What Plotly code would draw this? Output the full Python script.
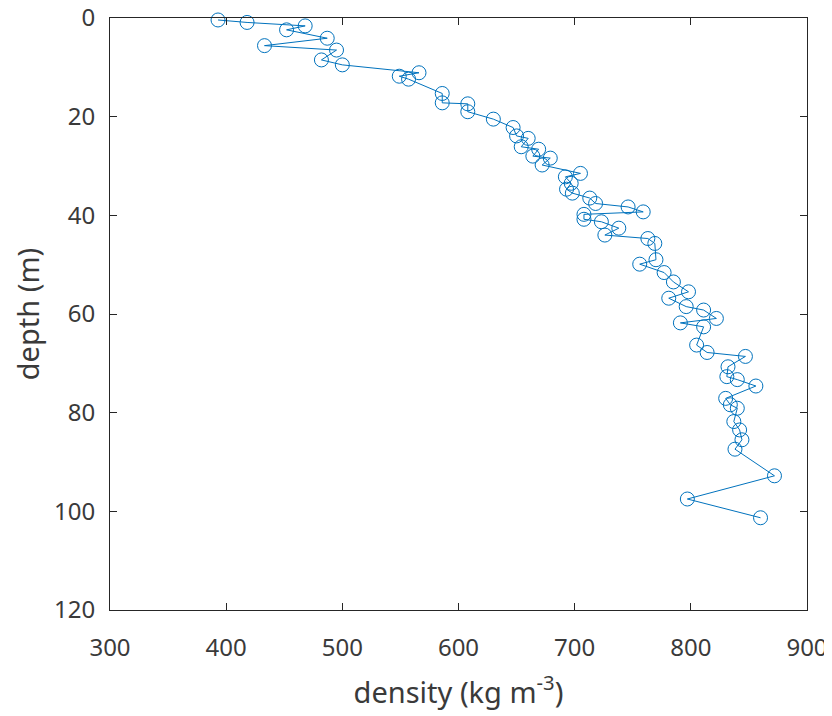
"""Density profile vs depth, MATLAB-style line with open circles."""

import plotly.graph_objects as go

# ---------------------------------------------------------------------------
# Data
# ---------------------------------------------------------------------------
depth = [
    0.4, 0.9, 1.6, 2.4, 4.1, 5.6, 6.5, 8.5, 9.5, 11.1,
    11.8, 12.4, 15.3, 17.2, 17.4, 19.0, 20.5, 22.2, 23.9, 24.4,
    26.1, 26.6, 28.0, 28.4, 29.8, 31.5, 32.2, 33.5, 34.7, 35.5,
    36.5, 37.6, 38.3, 39.3, 39.8, 40.8, 41.3, 42.6, 44.0, 44.7,
    45.7, 49.0, 49.9, 51.6, 53.5, 55.5, 56.8, 58.5, 59.2, 60.9,
    61.8, 62.6, 66.3, 67.8, 68.6, 70.7, 72.7, 73.3, 74.6, 77.1,
    78.4, 79.1, 81.8, 83.5, 85.5, 87.4, 92.8, 97.5, 101.3,
]
density = [
    393, 418, 468, 452, 487, 433, 495, 482, 500, 566,
    549, 557, 586, 586, 608, 608, 630, 647, 650, 660,
    654, 669, 664, 679, 672, 705, 692, 697, 693, 698,
    713, 718, 746, 759, 708, 708, 723, 738, 726, 763,
    769, 770, 756, 777, 785, 798, 781, 796, 811, 822,
    791, 811, 805, 814, 847, 832, 831, 840, 856, 830,
    834, 840, 837, 842, 844, 838, 872, 797, 860,
]

x_ticks = [300, 400, 500, 600, 700, 800, 900]
y_ticks = [0, 20, 40, 60, 80, 100, 120]

_BLUE = "#0072BD"
_TEXT = "#3a3a3a"

fig = go.Figure(
    go.Scatter(
        x=density,
        y=depth,
        mode="lines+markers",
        line=dict(color=_BLUE, width=1),
        marker=dict(symbol="circle-open", size=14, color=_BLUE, line=dict(width=1)),
        cliponaxis=False,
        showlegend=False,
    )
)

_axis = dict(
    showgrid=False,
    zeroline=False,
    showline=True,
    linecolor="#262626",
    linewidth=1,
    mirror="ticks",
    ticks="inside",
    ticklen=7,
    tickcolor="#262626",
    tickfont=dict(size=24, color=_TEXT),
    ticklabeloverflow="allow",
    automargin=False,
)

# the page body has an 8px margin, so the figure is sized to fit inside it
fig.update_layout(
    width=824,
    height=708,
    paper_bgcolor="white",
    plot_bgcolor="white",
    font=dict(family="Noto Sans, sans-serif", color=_TEXT),
    margin=dict(l=102, r=25, t=10, b=106),
    xaxis=dict(
        **_axis,
        range=[300, 900],
        tickvals=x_ticks,
        ticklabelstandoff=16,
        title=dict(text="density (kg m<sup>-3</sup>)", font=dict(size=29), standoff=20),
    ),
    yaxis=dict(
        **_axis,
        range=[120, 0],
        tickvals=y_ticks,
        ticklabelstandoff=9,
        title=dict(text="depth (m)", font=dict(size=29), standoff=20),
    ),
)

fig.write_html("out.html")
